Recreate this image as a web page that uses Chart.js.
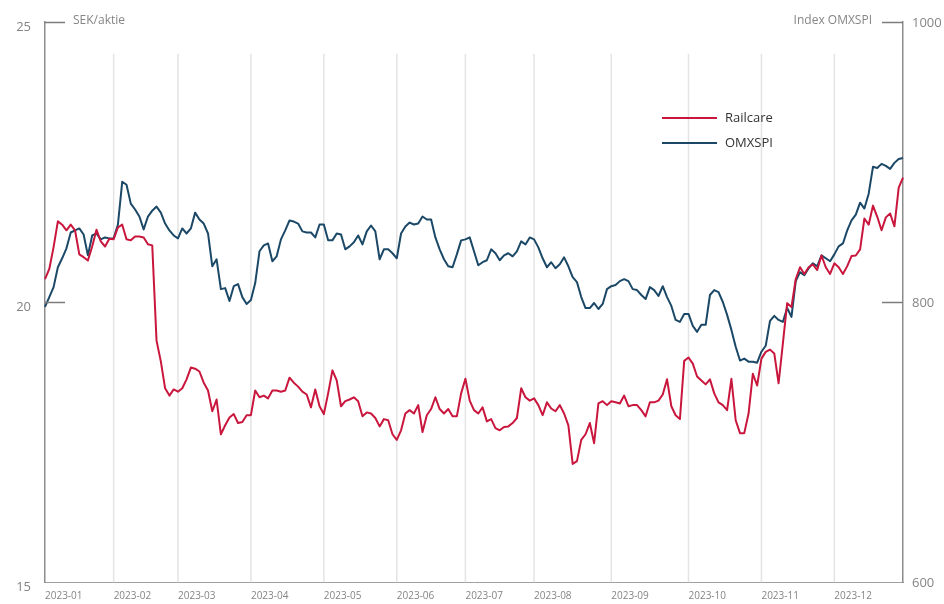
<!DOCTYPE html>
<html>
<head>
<meta charset="utf-8">
<script src="https://cdn.jsdelivr.net/npm/chart.js@4.4.1/dist/chart.umd.min.js"></script>
<style>
html,body{margin:0;padding:0;background:#ffffff;}
#wrap{width:944px;height:604px;position:relative;}
</style>
</head>
<body>
<div id="wrap"><canvas id="c" width="944" height="604"></canvas></div>
<script>
// ---------- data ----------
const monthTickLabels = ['2023-01','2023-02','2023-03','2023-04','2023-05','2023-06','2023-07','2023-08','2023-09','2023-10','2023-11','2023-12'];
const pointsPerMonth = [16,15,17,17,17,16,16,18,18,17,17,17];
const daysInMonth = [31,28,31,30,31,30,31,31,30,31,30,29];

const seriesNames = ['Railcare','OMXSPI'];
const leftAxisTitle = 'SEK/aktie';
const rightAxisTitle = 'Index OMXSPI';
const leftTicks = [15,20,25];
const rightTicks = [600,800,1000];

const railcare = [
20.41,20.59,20.98,21.44,21.38,21.28,21.38,21.28,20.85,20.80,
20.74,20.99,21.29,21.08,20.99,21.13,21.12,21.33,21.38,21.12,
21.10,21.17,21.17,21.15,21.03,21.01,19.31,18.94,18.46,18.33,
18.44,18.40,18.46,18.62,18.83,18.81,18.76,18.56,18.42,18.05,
18.26,17.64,17.80,17.94,18.00,17.84,17.86,17.98,17.98,18.42,
18.30,18.33,18.28,18.42,18.42,18.40,18.42,18.65,18.56,18.49,
18.40,18.35,18.12,18.44,18.14,18.00,18.37,18.78,18.60,18.14,
18.23,18.26,18.30,18.23,17.96,18.03,18.01,17.93,17.78,17.91,
17.89,17.64,17.54,17.71,18.01,18.07,18.01,18.16,17.68,17.98,
18.09,18.30,18.09,18.01,18.09,17.96,17.96,18.37,18.63,18.24,
18.07,18.01,18.12,17.87,17.91,17.75,17.71,17.77,17.78,17.84,
17.93,18.46,18.30,18.24,18.28,18.16,17.98,18.21,18.10,18.05,
18.16,18.01,17.80,17.11,17.16,17.54,17.64,17.84,17.48,18.19,
18.23,18.16,18.23,18.21,18.19,18.33,18.14,18.16,18.16,18.07,
17.96,18.21,18.21,18.24,18.35,18.62,18.14,17.98,17.91,18.95,
19.01,18.90,18.67,18.60,18.53,18.62,18.37,18.21,18.16,18.07,
18.63,17.89,17.66,17.66,18.01,18.72,18.51,18.99,19.11,19.15,
19.08,18.55,19.26,19.98,19.91,20.41,20.62,20.50,20.62,20.67,
20.57,20.83,20.62,20.50,20.69,20.62,20.50,20.64,20.82,20.83,
20.94,21.49,21.38,21.72,21.52,21.28,21.51,21.58,21.35,22.04,22.22
];

const omxspi = [
796.5,803.5,810.6,824.8,831.2,838.3,849.6,851.1,852.5,848.2,
833.3,847.5,848.9,844.7,846.1,845.4,845.4,855.3,885.8,883.7,
870.2,866.0,861.0,851.8,861.0,865.2,868.1,863.8,856.0,851.1,
847.5,845.4,852.5,848.9,852.5,863.8,858.9,856.0,848.9,825.5,
830.5,809.2,809.9,800.7,811.3,812.8,803.5,798.6,801.4,813.5,
836.2,840.4,841.8,829.1,832.6,844.7,851.1,858.2,857.4,856.0,
850.4,849.6,849.6,846.1,855.3,855.3,844.0,844.0,848.9,848.2,
837.6,839.7,842.6,847.5,841.1,850.4,854.6,850.4,830.5,837.6,
837.6,834.8,831.2,848.9,853.9,856.7,855.3,856.0,861.0,858.9,
858.9,846.1,837.6,830.5,825.5,824.8,834.0,844.0,844.7,846.1,
836.2,826.2,828.4,829.8,837.6,834.8,829.8,833.3,834.8,832.6,
836.2,843.3,841.1,846.1,844.7,839.0,831.2,824.8,828.4,824.1,
827.0,831.9,825.5,817.7,814.2,803.5,795.7,795.7,799.3,795.0,
798.6,809.2,811.3,812.1,814.9,816.3,814.9,809.2,808.5,805.0,
802.1,810.6,808.5,804.3,811.3,803.5,797.2,787.2,785.8,791.5,
791.5,783.0,778.7,783.7,783.7,805.0,808.5,807.1,800.0,790.8,
780.1,768.1,758.2,759.6,757.4,757.4,756.7,764.5,768.8,786.5,
790.1,787.2,785.8,795.7,789.4,814.9,821.3,819.1,824.1,827.7,
825.5,833.3,831.2,829.1,834.0,839.7,841.8,851.1,858.2,862.4,
870.9,866.7,877.3,896.5,895.7,898.6,897.2,895.0,899.3,902.1,902.8
];

// ---------- point labels (one date per observation) ----------
const labels = [];
const monthStart = new Set();
pointsPerMonth.forEach((n, m) => {
  monthStart.add(labels.length);
  for (let k = 0; k < n; k++) {
    const d = 1 + Math.floor(k * daysInMonth[m] / n);
    labels.push(monthTickLabels[m] + '-' + String(d).padStart(2, '0'));
  }
});

// ---------- styling ----------
const RED = '#c9163d';
const BLUE = '#1b4866';
const AXIS = '#8c8c8c';
const TXT = '#858585';

const decor = {
  id: 'decor',
  beforeDatasetsDraw(chart) {
    const { ctx, chartArea: a, scales: { x } } = chart;
    ctx.save();
    ctx.strokeStyle = '#e4e4e4';
    ctx.lineWidth = 1.5;
    x.ticks.forEach((t, i) => {
      const px = x.getPixelForTick(i);
      if (px <= a.left + 2) return;
      ctx.beginPath();
      ctx.moveTo(px, a.top + 32);
      ctx.lineTo(px, a.bottom);
      ctx.stroke();
    });
    ctx.restore();
  },
  afterDraw(chart) {
    const { ctx, chartArea: a, scales: { y, y1 } } = chart;
    ctx.save();
    // inward tick marks
    ctx.strokeStyle = '#7c7c7c';
    ctx.lineWidth = 1.5;
    leftTicks.filter(v => v !== y.min).forEach(v => {
      const py = Math.round(y.getPixelForValue(v)) + 0.5;
      ctx.beginPath(); ctx.moveTo(a.left, py); ctx.lineTo(a.left + 20, py); ctx.stroke();
    });
    rightTicks.filter(v => v !== y1.min).forEach(v => {
      const py = Math.round(y1.getPixelForValue(v)) + 0.5;
      ctx.beginPath(); ctx.moveTo(a.right - 21, py); ctx.lineTo(a.right, py); ctx.stroke();
    });
    // axis titles
    ctx.fillStyle = TXT;
    ctx.font = '12px "Open Sans"';
    ctx.textBaseline = 'middle';
    ctx.textAlign = 'left';
    ctx.fillText(leftAxisTitle, a.left + 28, a.top - 1);
    ctx.textAlign = 'right';
    ctx.fillText(rightAxisTitle, a.right - 31, a.top - 1);
    // legend
    ctx.textAlign = 'left';
    ctx.font = '13px "Open Sans"';
    chart.data.datasets.forEach((ds, i) => {
      const ly = 118 + i * 25;
      ctx.strokeStyle = ds.borderColor;
      ctx.lineWidth = 2;
      ctx.beginPath(); ctx.moveTo(662, ly); ctx.lineTo(717, ly); ctx.stroke();
      ctx.fillStyle = '#333333';
      ctx.fillText(ds.label, 725, ly);
    });
    ctx.restore();
  }
};

new Chart(document.getElementById('c').getContext('2d'), {
  type: 'line',
  data: {
    labels: labels,
    datasets: [
      { label: seriesNames[0], data: railcare, yAxisID: 'y', borderColor: RED, backgroundColor: RED,
        borderWidth: 2, pointRadius: 0, tension: 0, borderJoinStyle: 'round', fill: false },
      { label: seriesNames[1], data: omxspi, yAxisID: 'y1', borderColor: BLUE, backgroundColor: BLUE,
        borderWidth: 2, pointRadius: 0, tension: 0, borderJoinStyle: 'round', fill: false }
    ]
  },
  options: {
    responsive: false,
    animation: false,
    events: [],
    layout: { padding: { top: 21, left: 0, right: 0, bottom: 0 } },
    plugins: { legend: { display: false }, tooltip: { enabled: false } },
    scales: {
      x: {
        type: 'category',
        offset: false,
        grid: { display: false, drawTicks: false },
        border: { display: true, color: '#a0a0a0', width: 1, dash: [3, 2] },
        afterBuildTicks: s => { s.ticks = s.ticks.filter(t => monthStart.has(t.value)); },
        ticks: {
          autoSkip: false, maxRotation: 0, minRotation: 0, align: 'start', padding: 8,
          color: TXT, font: { family: 'Open Sans', size: 10 },
          callback: function (v) { return labels[v].slice(0, 7); }
        },
        afterFit: s => { s.height = 19; }
      },
      y: {
        position: 'left', min: 15, max: 25,
        afterBuildTicks: s => { s.ticks = leftTicks.map(v => ({ value: v })); },
        grid: { display: false, drawTicks: false },
        border: { display: true, color: AXIS, width: 1.5 },
        ticks: { padding: 14, labelOffset: 5, color: TXT, font: { family: 'Open Sans', size: 13 },
                 callback: v => String(v) },
        afterFit: s => { s.width = 45; }
      },
      y1: {
        position: 'right', min: 600, max: 1000,
        afterBuildTicks: s => { s.ticks = rightTicks.map(v => ({ value: v })); },
        grid: { display: false, drawTicks: false },
        border: { display: true, color: AXIS, width: 1.5 },
        ticks: { padding: 9, labelOffset: 1, color: TXT, font: { family: 'Open Sans', size: 13 },
                 callback: v => String(v) },
        afterFit: s => { s.width = 41; }
      }
    }
  },
  plugins: [decor]
});
</script>
</body>
</html>
